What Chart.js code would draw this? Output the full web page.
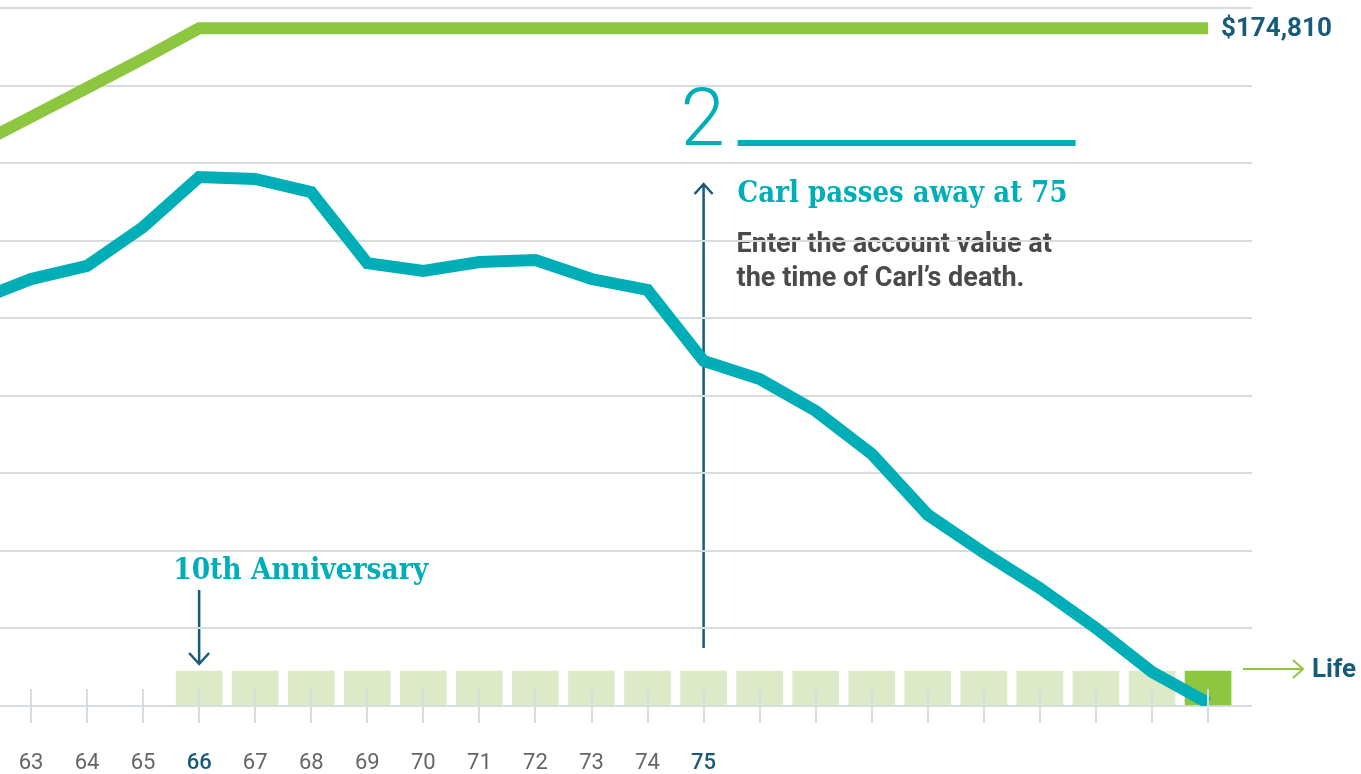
<!DOCTYPE html>
<html>
<head>
<meta charset="utf-8">
<script src="https://cdn.jsdelivr.net/npm/chart.js@4.4.1/dist/chart.umd.min.js"></script>
<style>
  html, body { margin: 0; background: #fff; }
  #wrap { width: 1361px; height: 774px; position: relative; }
</style>
</head>
<body>
<div id="wrap"><canvas id="chart"></canvas></div>
<script>
// Data
const ages = [62, 63, 64, 65, 66, 67, 68, 69, 70, 71, 72, 73, 74, 75, 76, 77, 78, 79, 80, 81, 82, 83, 84];
const accountValue = [104400, 110100, 113500, 123500, 136400, 135900, 132500, 114200, 112200, 114500, 115000,
  110100, 107300, 89000, 84300, 76100, 65000, 49300, 39500, 30400, 20100, 8800, 800];
const benefitBase = [144400, 151900, 159400, 166900, 174810, 174810, 174810, 174810, 174810, 174810, 174810,
  174810, 174810, 174810, 174810, 174810, 174810, 174810, 174810, 174810, 174810, 174810, 174810];
const incomeYears = [66, 67, 68, 69, 70, 71, 72, 73, 74, 75, 76, 77, 78, 79, 80, 81, 82, 83, 84];
const incomeMarker = 9000;
const tickAges = [63, 64, 65, 66, 67, 68, 69, 70, 71, 72, 73, 74, 75, 76, 77, 78, 79, 80, 81, 82, 83, 84];
const labelAges = [63, 64, 65, 66, 67, 68, 69, 70, 71, 72, 73, 74, 75];
const highlightAges = [66, 75];
const finalValueLabel = '$174,810';

const TEAL = '#00aeb8';
const GREEN = '#8dc63f';
const NAVY = '#165a7c';
const GRID = '#d7dce1';

function fitText(ctx, text, x, y, width, font, color) {
  ctx.save();
  ctx.font = font;
  ctx.fillStyle = color;
  ctx.textAlign = 'left';
  ctx.textBaseline = 'alphabetic';
  const w = ctx.measureText(text).width;
  ctx.translate(x, y);
  ctx.scale(width / w, 1);
  ctx.fillText(text, 0, 0);
  ctx.restore();
}

function arrow(ctx, x1, y1, x2, y2, color, lw, hw, hl) {
  ctx.save();
  ctx.strokeStyle = color;
  ctx.lineWidth = lw;
  ctx.beginPath();
  ctx.moveTo(x1, y1);
  ctx.lineTo(x2, y2);
  const ang = Math.atan2(y2 - y1, x2 - x1);
  const c = Math.cos(ang), s = Math.sin(ang);
  ctx.moveTo(x2 - hl * c - hw * s, y2 - hl * s + hw * c);
  ctx.lineTo(x2, y2);
  ctx.lineTo(x2 - hl * c + hw * s, y2 - hl * s - hw * c);
  ctx.stroke();
  ctx.restore();
}

const annotations = {
  id: 'annotations',
  beforeDraw(chart) {
    const ctx = chart.ctx;
    const xs = chart.scales.x;
    ctx.save();
    ctx.fillStyle = '#fff';
    ctx.fillRect(0, 0, chart.width, chart.height);

    const x75 = xs.getPixelForValue(75);
    const x66 = xs.getPixelForValue(66);

    // step number and rule
    ctx.font = '300 80px Roboto';
    ctx.fillStyle = TEAL;
    ctx.textBaseline = 'alphabetic';
    ctx.fillText('2', x75 - 23, 145);
    ctx.fillRect(x75 + 34, 140, 338, 6);

    fitText(ctx, 'Carl passes away at 75', x75 + 34, 202, 330, 'bold 30px "DejaVu Serif"', TEAL);
    ctx.font = 'bold 27px Roboto';
    ctx.fillStyle = '#4a4a4a';
    ctx.fillText('Enter the account value at', x75 + 33, 252);
    ctx.fillText('the time of Carl\u2019s death.', x75 + 33, 286);

    arrow(ctx, x75, 648, x75, 184, NAVY, 2.5, 9, 10);

    fitText(ctx, '10th Anniversary', x66 - 26, 579, 255, 'bold 30px "DejaVu Serif"', TEAL);
    arrow(ctx, x66, 590, x66, 664, NAVY, 2.5, 10, 11);
    ctx.restore();
  },
  afterDraw(chart) {
    const ctx = chart.ctx;
    const xs = chart.scales.x;
    const ys = chart.scales.y;
    const base = ys.getPixelForValue(0);
    ctx.save();
    ctx.strokeStyle = GRID;
    ctx.lineWidth = 2;
    tickAges.forEach(a => {
      const x = Math.round(xs.getPixelForValue(a));
      ctx.beginPath();
      ctx.moveTo(x, base - 17);
      ctx.lineTo(x, base + 17);
      ctx.stroke();
    });
    ctx.textAlign = 'center';
    ctx.textBaseline = 'alphabetic';
    labelAges.forEach(a => {
      const hi = highlightAges.includes(a);
      ctx.font = (hi ? '500 ' : '400 ') + '22px Roboto';
      ctx.fillStyle = hi ? NAVY : '#666';
      ctx.fillText(String(a), xs.getPixelForValue(a), 769);
    });

    // end value label
    ctx.textAlign = 'left';
    ctx.textBaseline = 'middle';
    ctx.font = 'bold 26px Roboto';
    ctx.fillStyle = NAVY;
    ctx.fillText(finalValueLabel, 1221, ys.getPixelForValue(benefitBase[benefitBase.length - 1]) + 1);

    // Life marker
    arrow(ctx, 1243, 669, 1303, 669, GREEN, 2, 9, 10);
    ctx.textBaseline = 'alphabetic';
    ctx.font = 'bold 26px Roboto';
    ctx.fillStyle = NAVY;
    ctx.fillText('Life', 1312, 677);
    ctx.restore();
  }
};

const ctx = document.getElementById('chart').getContext('2d');
new Chart(ctx, {
  type: 'line',
  data: {
    datasets: [
      {
        label: 'Benefit base',
        data: ages.map((a, i) => ({ x: a, y: benefitBase[i] })),
        borderColor: GREEN,
        borderWidth: 12,
        pointRadius: 0,
        tension: 0,
        order: 1
      },
      {
        label: 'Account value',
        data: ages.map((a, i) => ({ x: a, y: accountValue[i] })),
        borderColor: TEAL,
        borderWidth: 12,
        pointRadius: 0,
        tension: 0,
        order: 0
      },
      {
        type: 'bar',
        label: 'Income years',
        data: incomeYears.map(a => ({ x: a, y: incomeMarker })),
        backgroundColor: incomeYears.map((a, i) => i === incomeYears.length - 1 ? GREEN : '#dceac8'),
        barThickness: 46,
        order: 5
      }
    ]
  },
  options: {
    responsive: true,
    maintainAspectRatio: false,
    animation: false,
    layout: { padding: { left: 0, top: 8, right: 109, bottom: 68 } },
    plugins: { legend: { display: false }, tooltip: { enabled: false } },
    scales: {
      x: {
        type: 'linear',
        display: false,
        offset: false,
        min: 62.447,
        max: 84.784
      },
      y: {
        min: 0,
        max: 180000,
        ticks: { display: false, stepSize: 20000 },
        border: { display: false },
        grid: { color: GRID, lineWidth: 2, drawTicks: false }
      }
    }
  },
  plugins: [annotations]
});
</script>
</body>
</html>
